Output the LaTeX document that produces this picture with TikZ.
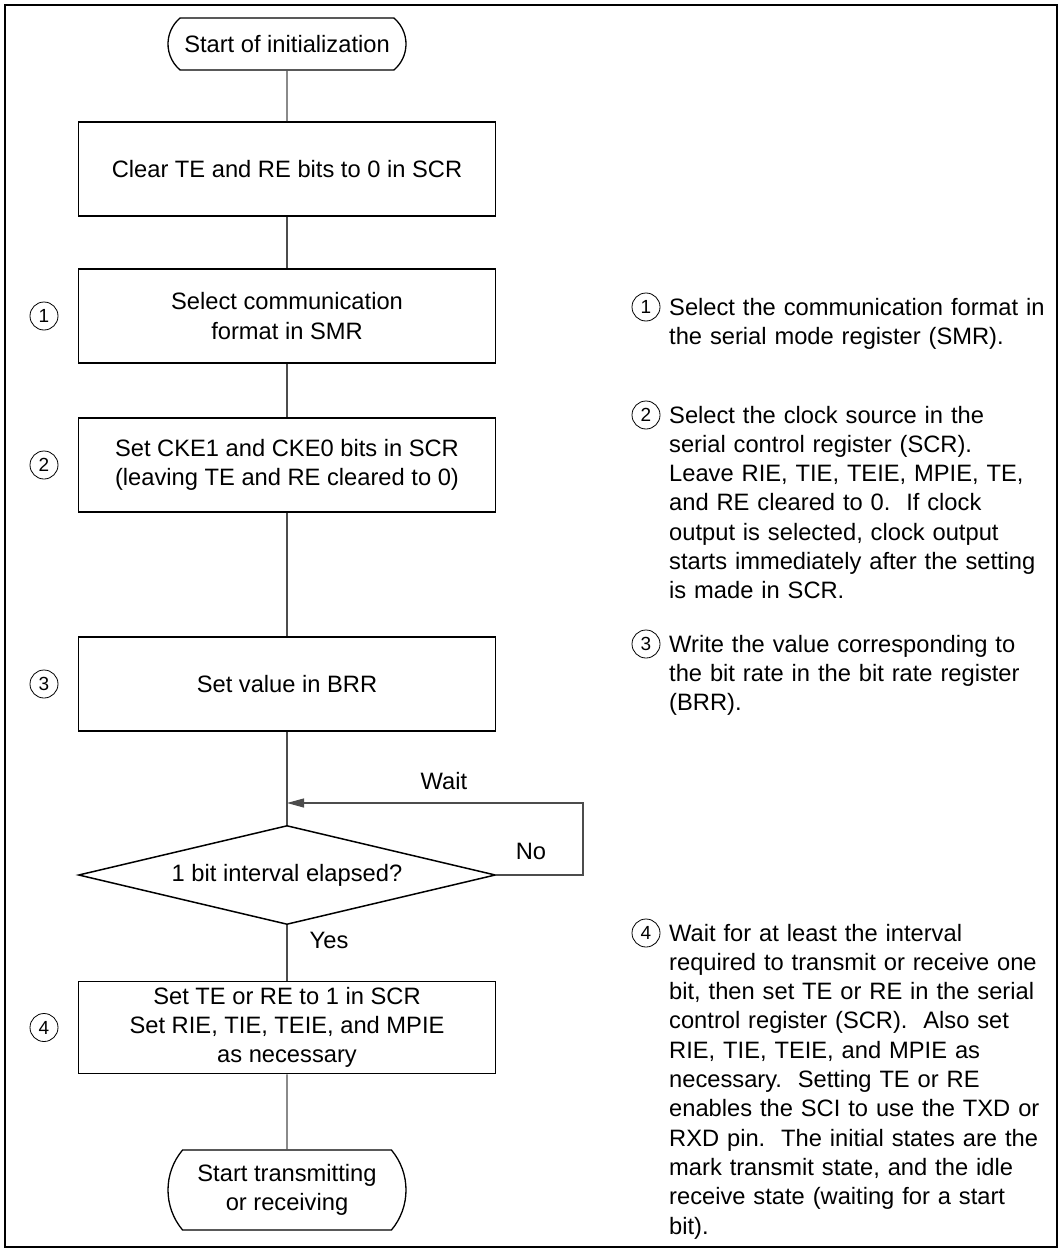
\documentclass[tikz,border=0pt]{standalone}
\usepackage{fontspec}
\setmainfont{Liberation Sans}
\usetikzlibrary{shapes.geometric,shapes.misc,arrows.meta}
\begin{document}
\begin{tikzpicture}[x=1pt,y=-1pt,
  txt/.style={font=\fontsize{23.7}{29.3}\selectfont},
  flow/.style={txt,draw,line width=1.6pt,minimum width=417pt,minimum height=94pt,align=center,inner sep=0pt},
  term/.style={txt,rounded rectangle,rounded rectangle arc length=100,draw,line width=1.3pt,minimum width=238pt,minimum height=52pt,align=center,inner sep=0pt},
  dec/.style={txt,diamond,draw,line width=1.5pt,minimum width=417pt,minimum height=99pt,inner sep=0pt,aspect=4.2},
  conn/.style={line width=1.1pt,draw=black!70},
  num/.style={circle,draw,line width=0.8pt,minimum size=28pt,inner sep=0pt,font=\fontsize{19}{19}\selectfont},
  note/.style={txt,anchor=base west,text width=385pt,align=left,inner sep=0pt},
  lbl/.style={txt,inner sep=0pt}
]
\useasboundingbox (0,0) rectangle (1062,1252);
\draw[line width=1.3pt] (5,5) rectangle (1057,1247);

\node[term] (start) at (287,44) {Start of initialization};
\node[flow] (b1) at (287,169) {Clear TE and RE bits to 0 in SCR};
\node[flow] (b2) at (287,316) {Select communication\\format in SMR};
\node[flow] (b3) at (287,465) {Set CKE1 and CKE0 bits in SCR\\(leaving TE and RE cleared to 0)};
\node[flow] (b4) at (287,684) {Set value in BRR};
\node[dec] (d) at (287,875) {1 bit interval elapsed?};
\node[flow,minimum height=92pt] (b5) at (287,1027.5) {Set TE or RE to 1 in SCR\\Set RIE, TIE, TEIE, and MPIE\\as necessary};
\node[term,minimum height=80pt,rounded rectangle arc length=80] (end) at (287,1190) {Start transmitting\\or receiving};

\draw[conn] (start) -- (b1);
\draw[conn] (b1) -- (b2);
\draw[conn] (b2) -- (b3);
\draw[conn] (b3) -- (b4);
\draw[conn] (b4) -- (d);
\draw[conn] (d) -- (b5);
\draw[conn] (b5) -- (end);

\coordinate (nr) at (583,875);
\coordinate (wr) at (583,803);
\coordinate (wl) at (287,803);
\draw[conn,-{Triangle[length=17pt,width=9pt]}] (d.east) -- (nr) -- (wr) -- (wl);
\node[lbl] (wait) at (444,781) {Wait};
\node[lbl] (no) at (531,851) {No};
\node[lbl] (yes) at (329,940) {Yes};

\node[num] (n1) at (44,316) {1};
\node[num] (n2) at (44,465) {2};
\node[num] (n3) at (44,684) {3};
\node[num] (n4) at (44,1027.5) {4};

\node[note] (t1) at (669,315) {Select the communication format in\\the serial mode register (SMR).};
\node[num] (m1) at (646,307) {1};
\node[note] (t2) at (669,423) {Select the clock source in the\\serial control register (SCR).\\Leave RIE, TIE, TEIE, MPIE, TE,\\and RE cleared to 0.\ \ If clock\\output is selected, clock output\\starts immediately after the setting\\is made in SCR.};
\node[num] (m2) at (646,415) {2};
\node[note] (t3) at (669,652) {Write the value corresponding to\\the bit rate in the bit rate register\\(BRR).};
\node[num] (m3) at (646,644) {3};
\node[note] (t4) at (669,941) {Wait for at least the interval\\required to transmit or receive one\\bit, then set TE or RE in the serial\\control register (SCR).\ \ Also set\\RIE, TIE, TEIE, and MPIE as\\necessary.\ \ Setting TE or RE\\enables the SCI to use the TXD or\\RXD pin.\ \ The initial states are the\\mark transmit state, and the idle\\receive state (waiting for a start\\bit).};
\node[num] (m4) at (646,933) {4};
\end{tikzpicture}
\end{document}
